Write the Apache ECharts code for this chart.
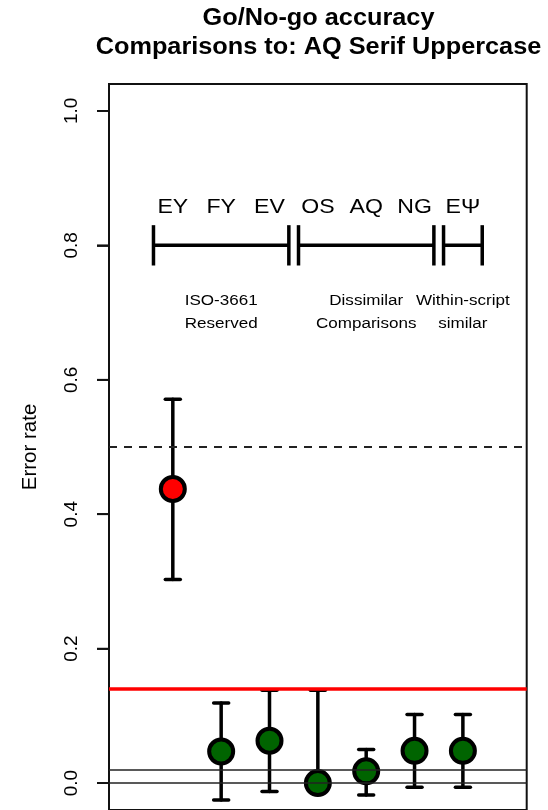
<!DOCTYPE html>
<html>
<head>
<meta charset="utf-8">
<title>Go/No-go accuracy</title>
<script src="https://cdn.jsdelivr.net/npm/echarts@6/dist/echarts.min.js"></script>
<style>
  html, body { margin: 0; padding: 0; background: #ffffff; }
  #chart { width: 548px; height: 810px; }
</style>
</head>
<body>
<div id="chart"></div>
<script>
// Comparison pairs, plotted at x = 1..7
const pairs = ['EY', 'FY', 'EV', 'OS', 'AQ', 'NG', 'EΨ'];
// Mean error rate per pair and its interval
const errorRate = [0.4375, 0.047, 0.063, 0.0, 0.0175, 0.048, 0.048];
const ciLower   = [0.303, -0.025, -0.0125, 0.0, -0.0175, -0.006, -0.006];
const ciUpper   = [0.571, 0.119, 0.138, 0.138, 0.050, 0.102, 0.102];
// Point fill: red = above criterion, dark green = below
const pointFill = ['#ff0000', '#006400', '#006400', '#006400', '#006400', '#006400', '#006400'];

// Bracketed groups of pairs
const groupNames   = ['ISO-3661\nReserved', 'Dissimilar\nComparisons', 'Within-script\nsimilar'];
const groupSpans   = [[0.6, 3.4], [3.6, 6.4], [6.6, 7.4]];
const groupCenters = [2, 5, 7];

// Axis ticks and reference levels
const yTicks = [0, 0.2, 0.4, 0.6, 0.8, 1.0];
const chanceLevel = 0.5;
const criterionLevel = 0.14;
const baseLines = [0, 0.02];

// Annotation heights (data units)
const pairLabelY = 0.857;
const bracketY = 0.8;
const bracketTick = 0.03;
const groupLabelY = 0.70;

const X_MIN = -0.32, X_MAX = 8.32;
const FONT = '"Liberation Sans", Arial, Helvetica, sans-serif';
const STRETCH = 1.1;

const chart = echarts.init(document.getElementById('chart'));

// Title lines and the rotated y-axis title
const textGraphics = [
  {
    id: 'title1', type: 'text', x: 318.5, y: 19, scaleX: STRETCH,
    style: { text: 'Go/No-go accuracy', fontFamily: FONT, fontWeight: 'bold', fontSize: 23,
             fill: '#000', align: 'center', verticalAlign: 'middle' }
  },
  {
    id: 'title2', type: 'text', x: 318.5, y: 48, scaleX: STRETCH,
    style: { text: 'Comparisons to: AQ Serif Uppercase', fontFamily: FONT, fontWeight: 'bold', fontSize: 23,
             fill: '#000', align: 'center', verticalAlign: 'middle' }
  },
  {
    id: 'ytitle', type: 'text', x: 30, y: 447, rotation: Math.PI / 2,
    style: { text: 'Error rate', fontFamily: FONT, fontSize: 20.5,
             fill: '#000', align: 'center', verticalAlign: 'middle' }
  }
];

const option = {
  animation: false,
  textStyle: { fontFamily: FONT },
  grid: { left: 109, right: 21.3, top: 84, bottom: 0, show: true, borderColor: '#111', borderWidth: 2 },
  graphic: textGraphics,
  xAxis: { type: 'value', min: X_MIN, max: X_MAX, show: false },
  yAxis: {
    type: 'value', min: -0.04, max: 1.04,
    axisLine: { show: true, onZero: false, lineStyle: { color: '#111', width: 2 } },
    axisTick: { show: true, inside: false, customValues: yTicks, length: 12, lineStyle: { color: '#111', width: 1.8 } },
    axisLabel: {
      customValues: yTicks, rotate: 90, margin: 28,
      fontSize: 19, color: '#000',
      formatter: v => v.toFixed(1)
    },
    splitLine: { show: false }
  },
  series: [
    {
      // interval bars with flat caps
      type: 'custom',
      z: 2,
      clip: false,
      silent: true,
      data: pairs.map((p, i) => [i + 1, ciLower[i], ciUpper[i]]),
      encode: { x: 0, y: [1, 2] },
      renderItem(params, api) {
        const x = api.value(0);
        const lo = api.coord([x, api.value(1)]);
        const hi = api.coord([x, api.value(2)]);
        const cap = 7.5;
        const st = { stroke: '#000', lineWidth: 3.5, lineCap: 'round' };
        return {
          type: 'group',
          children: [
            { type: 'line', shape: { x1: lo[0], y1: lo[1], x2: hi[0], y2: hi[1] }, style: st },
            { type: 'line', shape: { x1: hi[0] - cap, y1: hi[1], x2: hi[0] + cap, y2: hi[1] }, style: st },
            { type: 'line', shape: { x1: lo[0] - cap, y1: lo[1], x2: lo[0] + cap, y2: lo[1] }, style: st }
          ]
        };
      }
    },
    {
      type: 'scatter',
      z: 3,
      clip: false,
      silent: true,
      symbol: 'circle',
      symbolSize: 24,
      data: pairs.map((p, i) => ({
        value: [i + 1, errorRate[i]],
        itemStyle: { color: pointFill[i] }
      })),
      itemStyle: { borderColor: '#000', borderWidth: 4, opacity: 1 }
    },
    {
      // reference levels: chance (dashed) and baselines
      type: 'line',
      z: 4,
      clip: false,
      data: [],
      silent: true,
      markLine: {
        silent: true, symbol: 'none', animation: false,
        label: { show: false },
        data: [
          { yAxis: chanceLevel, lineStyle: { color: '#222', width: 2, type: [8, 7] } },
          ...baseLines.map(v => ({ yAxis: v, lineStyle: { color: '#222', width: 1.5, type: 'solid' } }))
        ]
      }
    },
    {
      // criterion level
      type: 'line',
      z: 5,
      clip: false,
      data: [],
      silent: true,
      markLine: {
        silent: true, symbol: 'none', animation: false,
        label: { show: false },
        data: [{ yAxis: criterionLevel, lineStyle: { color: '#ff0000', width: 3.5, type: 'solid' } }]
      }
    },
    {
      // pair names across the top
      type: 'custom',
      z: 6,
      clip: false,
      silent: true,
      data: pairs.map((p, i) => [i + 1, pairLabelY]),
      encode: { x: 0, y: 1 },
      renderItem(params, api) {
        const pt = api.coord([api.value(0), api.value(1)]);
        return {
          type: 'text', x: pt[0], y: pt[1], scaleX: 1.1,
          style: { text: pairs[params.dataIndex], fontFamily: FONT, fontSize: 21, fill: '#000',
                   align: 'center', verticalAlign: 'middle' }
        };
      }
    },
    {
      // group brackets
      type: 'custom',
      z: 6,
      clip: false,
      silent: true,
      data: groupSpans.map(s => [s[0], s[1], bracketY]),
      encode: { x: [0, 1], y: 2 },
      renderItem(params, api) {
        const y = api.value(2);
        const a = api.coord([api.value(0), y]);
        const b = api.coord([api.value(1), y]);
        const top = api.coord([api.value(0), y + bracketTick])[1];
        const bot = api.coord([api.value(0), y - bracketTick])[1];
        const st = { stroke: '#000', lineWidth: 3.5, lineCap: 'butt' };
        return {
          type: 'group',
          children: [
            { type: 'line', shape: { x1: a[0], y1: a[1], x2: b[0], y2: b[1] }, style: st },
            { type: 'line', shape: { x1: a[0], y1: top, x2: a[0], y2: bot }, style: st },
            { type: 'line', shape: { x1: b[0], y1: top, x2: b[0], y2: bot }, style: st }
          ]
        };
      }
    },
    {
      // group captions
      type: 'custom',
      z: 6,
      clip: false,
      silent: true,
      data: groupCenters.map(c => [c, groupLabelY]),
      encode: { x: 0, y: 1 },
      renderItem(params, api) {
        const pt = api.coord([api.value(0), api.value(1)]);
        return {
          type: 'text', x: pt[0], y: pt[1], scaleX: STRETCH,
          style: { text: groupNames[params.dataIndex], fontFamily: FONT, fontSize: 15.5, lineHeight: 23,
                   fill: '#000', align: 'center', verticalAlign: 'middle' }
        };
      }
    }
  ]
};

chart.setOption(option);

// Outward y-axis tick marks, positioned through the axis scale
const tickGraphics = yTicks.map((v, i) => {
  const p = chart.convertToPixel({ gridIndex: 0 }, [X_MIN, v]);
  return {
    id: 'ytick' + i, type: 'line', z: 100,
    shape: { x1: p[0] - 12, y1: p[1], x2: p[0], y2: p[1] },
    style: { stroke: '#111', lineWidth: 1.8 }
  };
});
chart.setOption({ graphic: textGraphics.concat(tickGraphics) });
</script>
</body>
</html>
